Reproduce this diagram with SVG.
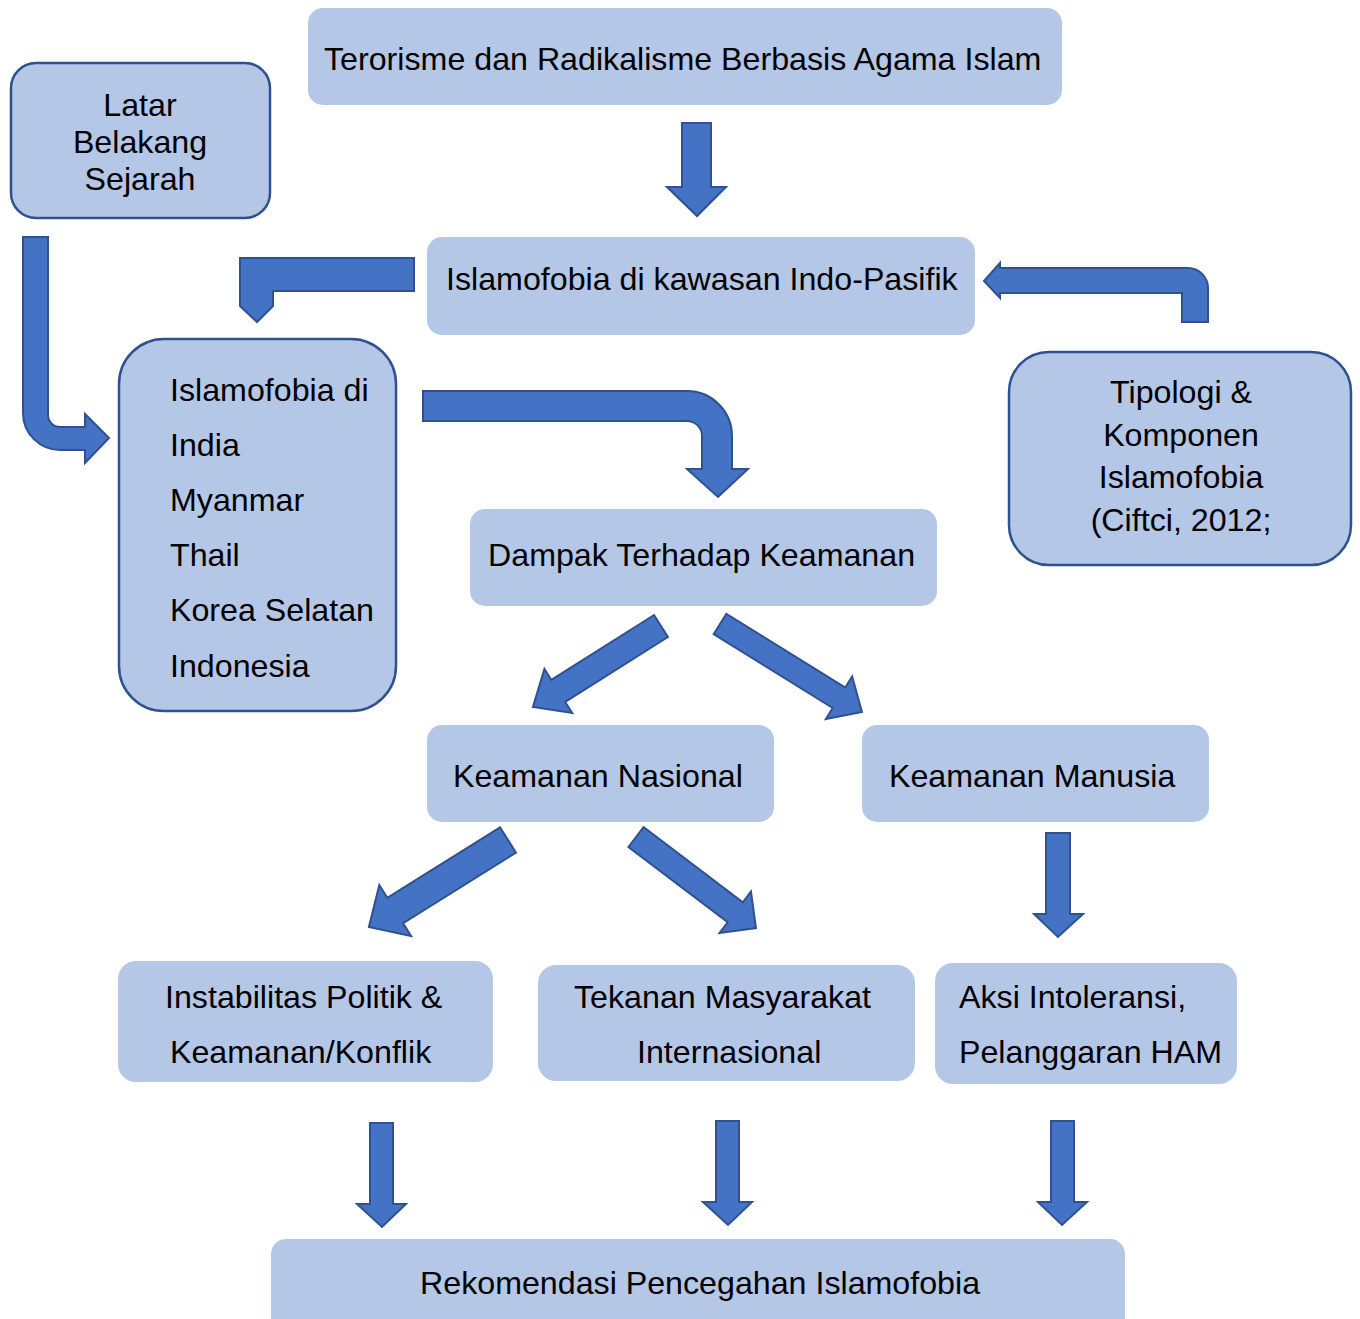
<svg xmlns="http://www.w3.org/2000/svg" width="1360" height="1319" viewBox="0 0 1360 1319">
<style>
.box{fill:#B4C7E7;}
.ol{stroke:#2F528F;stroke-width:2.5;}
.arr{fill:#4472C4;stroke:#2F528F;stroke-width:2;stroke-linejoin:miter;}
text{font-family:"Liberation Sans",Arial,sans-serif;font-size:32.2px;fill:#000;}
.c{text-anchor:middle;}
</style>
<rect width="1360" height="1319" fill="#fff"/>
<g id="connectors">
<polygon class="arr" points="682,123 711,123 711,187 726,187 697,216 667,187 682,187"/>
<polygon class="arr" points="414,258 240,258 240,306 257,322 273,306 273,291 414,291"/>
<path class="arr" d="M23,237 H48 V415 A12,12 0 0 0 60,427 H85 V414 L109,438 L85,463 V450 H60 A37,37 0 0 1 23,413 Z"/>
<path class="arr" d="M423,391 H687 A45,45 0 0 1 732,436 V469 H748 L718,497 L687,469 H702 V436 A15,15 0 0 0 687,421 H423 Z"/>
<path class="arr" d="M1182,322 V293 H1000 V298 L984,281 L1000,263 V268 H1188 A20,20 0 0 1 1208,288 V322 Z"/>
<polygon class="arr" transform="translate(661,626) rotate(147.7)" points="0,-13 121.5,-13 121.5,-26 151.5,0 121.5,26 121.5,13 0,13"/>
<polygon class="arr" transform="translate(720,624) rotate(31.8)" points="0,-12 140,-12 140,-25 167,0 140,25 140,12 0,12"/>
<polygon class="arr" transform="translate(508,840) rotate(148)" points="0,-15 133,-15 133,-30 164,0 133,30 133,15 0,15"/>
<polygon class="arr" transform="translate(636,837) rotate(37.2)" points="0,-12.5 124.6,-12.5 124.6,-26 150.6,0 124.6,26 124.6,12.5 0,12.5"/>
<polygon class="arr" points="1046,833 1070,833 1070,914 1083,914 1058,937 1034,914 1046,914"/>
<polygon class="arr" points="370,1123 393,1123 393,1204 406,1204 382,1227 357,1204 370,1204"/>
<polygon class="arr" points="716,1121 739,1121 739,1202 752,1202 728,1225 703,1202 716,1202"/>
<polygon class="arr" points="1051,1121 1074,1121 1074,1202 1087,1202 1062,1225 1038,1202 1051,1202"/>
</g>
<g id="n-terorisme">
<rect class="box" x="308" y="8" width="754" height="97" rx="15"/>
<text x="324" y="70">Terorisme dan Radikalisme Berbasis Agama Islam</text>
</g>
<g id="n-latar">
<rect class="box ol" x="11" y="63" width="259" height="155" rx="25"/>
<text class="c" x="140" y="116">Latar</text>
<text class="c" x="140" y="153">Belakang</text>
<text class="c" x="140" y="190">Sejarah</text>
</g>
<g id="n-kawasan">
<rect class="box" x="427" y="237" width="548" height="98" rx="15"/>
<text x="446" y="290">Islamofobia di kawasan Indo-Pasifik</text>
</g>
<g id="n-negara">
<rect class="box ol" x="119" y="339" width="277" height="372" rx="45"/>
<text x="170" y="401">Islamofobia di</text>
<text x="170" y="456">India</text>
<text x="170" y="511">Myanmar</text>
<text x="170" y="566">Thail</text>
<text x="170" y="621">Korea Selatan</text>
<text x="170" y="677">Indonesia</text>
</g>
<g id="n-tipologi">
<rect class="box ol" x="1009" y="352" width="342" height="213" rx="40"/>
<text class="c" x="1181" y="403">Tipologi &amp;</text>
<text class="c" x="1181" y="446">Komponen</text>
<text class="c" x="1181" y="488">Islamofobia</text>
<text class="c" x="1181" y="531">(Ciftci, 2012;</text>
</g>
<g id="n-dampak">
<rect class="box" x="470" y="509" width="467" height="97" rx="15"/>
<text x="488" y="566">Dampak Terhadap Keamanan</text>
</g>
<g id="n-nasional">
<rect class="box" x="427" y="725" width="347" height="97" rx="15"/>
<text x="453" y="787">Keamanan Nasional</text>
</g>
<g id="n-manusia">
<rect class="box" x="862" y="725" width="347" height="97" rx="15"/>
<text x="889" y="787">Keamanan Manusia</text>
</g>
<g id="n-instabilitas">
<rect class="box" x="118" y="961" width="375" height="121" rx="18"/>
<text x="165" y="1008">Instabilitas Politik &amp;</text>
<text x="170" y="1063">Keamanan/Konflik</text>
</g>
<g id="n-tekanan">
<rect class="box" x="538" y="965" width="377" height="116" rx="18"/>
<text x="574" y="1008">Tekanan Masyarakat</text>
<text x="637" y="1063">Internasional</text>
</g>
<g id="n-aksi">
<rect class="box" x="935" y="963" width="302" height="121" rx="18"/>
<text x="959" y="1008">Aksi Intoleransi,</text>
<text x="959" y="1063">Pelanggaran HAM</text>
</g>
<g id="n-rekomendasi">
<rect class="box" x="271" y="1239" width="854" height="100" rx="15"/>
<text x="420" y="1294">Rekomendasi Pencegahan Islamofobia</text>
</g>
</svg>
